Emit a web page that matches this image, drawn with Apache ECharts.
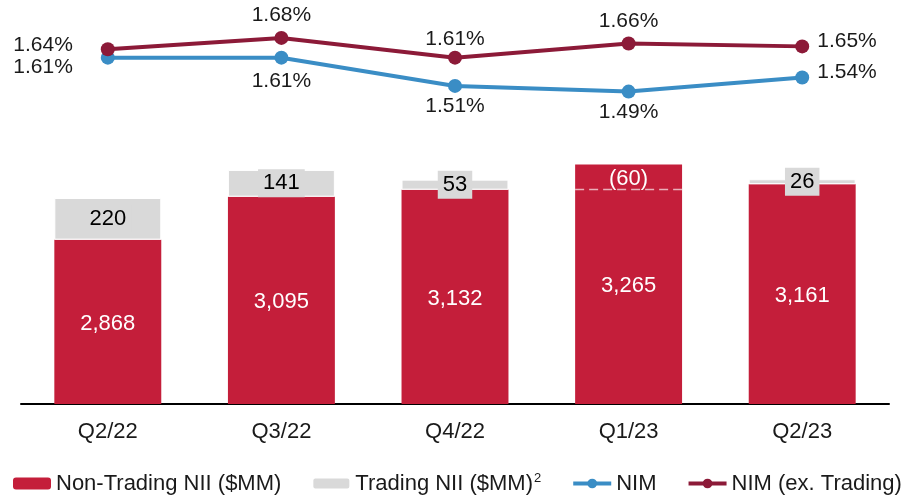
<!DOCTYPE html>
<html>
<head>
<meta charset="utf-8">
<script src="https://cdn.jsdelivr.net/npm/echarts@6/dist/echarts.min.js"></script>
<style>
  html, body { margin: 0; padding: 0; background: #fff; }
  #main { width: 904px; height: 499px; }
  #err { position: absolute; left: 200px; top: 120px; color: #00f; font: 12px sans-serif; }
</style>
</head>
<body>
<div id="main"></div>
<div id="err"></div>
<script>
// data
const quarters = ['Q2/22', 'Q3/22', 'Q4/22', 'Q1/23', 'Q2/23'];
const nonTradingNII = [2868, 3095, 3132, 3265, 3161];
const tradingNII = [220, 141, 53, -60, 26];
const nim = [1.61, 1.61, 1.51, 1.49, 1.54];
const nimExTrading = [1.64, 1.68, 1.61, 1.66, 1.65];

const FONT = 'Liberation Sans, Arial, sans-serif';
const RED = '#c41e3a';
const GRAY = '#d9d9d9';
const BLUE = '#3a8dc5';
const MAROON = '#8c1a38';
const BAR_W = 0.616;

const pct = v => v.toFixed(2) + '%';

// per-point label placement for the two NIM lines
const maroonPos = [
  { position: 'left', distance: 28, offset: [0, -4] },
  { position: 'top', distance: 5 },
  { position: 'top', distance: 1 },
  { position: 'top', distance: 5 },
  { position: 'right', distance: 8, offset: [0, -5] }
];
const bluePos = [
  { position: 'left', distance: 28, offset: [0, 10] },
  { position: 'bottom', distance: 6 },
  { position: 'bottom', distance: 3 },
  { position: 'bottom', distance: 3 },
  { position: 'right', distance: 8, offset: [0, -5] }
];

const negItems = tradingNII.map((v, i) => [i, nonTradingNII[i], v]).filter(d => d[2] < 0);

const chart = echarts.init(document.getElementById('main'));

const option = {
  animation: false,
  textStyle: { fontFamily: FONT },
  grid: [
    { left: 21, right: 15, top: 4, height: 113 },
    { left: 21, right: 15, top: 120, bottom: 95 }
  ],
  xAxis: [
    { type: 'category', gridIndex: 0, data: quarters, show: false },
    {
      type: 'category', gridIndex: 1, data: quarters,
      axisLine: { lineStyle: { color: '#000', width: 2 } },
      axisTick: { show: false },
      axisLabel: { fontSize: 22, color: '#1a1a1a', margin: 17, fontFamily: FONT }
    }
  ],
  yAxis: [
    { type: 'value', gridIndex: 0, min: 1.4, max: 1.8, show: false, splitLine: { show: false } },
    { type: 'value', gridIndex: 1, min: 2000, max: 3500, show: false, splitLine: { show: false } }
  ],
  legend: {
    data: ['Non-Trading NII ($MM)', 'Trading NII ($MM)', 'NIM', 'NIM (ex. Trading)'],
    left: 13, top: 472, padding: 0,
    itemWidth: 38, itemHeight: 12, itemGap: 30,
    lineStyle: { width: 4 },
    formatter: name => name === 'Trading NII ($MM)' ? '{a|' + name + '}{s|2}' : name,
    textStyle: {
      fontSize: 22, color: '#1a1a1a', fontFamily: FONT,
      rich: {
        a: { fontSize: 22, color: '#1a1a1a', fontFamily: FONT },
        s: { fontSize: 13, color: '#1a1a1a', fontFamily: FONT, verticalAlign: 'top', padding: [0, 0, 10, 1] }
      }
    }
  },
  series: [
    {
      name: 'Non-Trading NII ($MM)',
      type: 'bar', xAxisIndex: 1, yAxisIndex: 1, stack: 'nii',
      barWidth: (BAR_W * 100) + '%',
      itemStyle: { color: RED },
      label: { show: true, position: 'inside', color: '#fff', fontSize: 22, fontFamily: FONT,
        offset: [0, 2], formatter: p => p.value.toLocaleString('en-US') },
      data: nonTradingNII
    },
    {
      name: 'Trading NII ($MM)',
      type: 'bar', xAxisIndex: 1, yAxisIndex: 1, stack: 'nii',
      itemStyle: { color: GRAY, borderColor: '#fff', borderWidth: 1 },
      label: { show: true, position: 'inside', color: '#000', fontSize: 22, fontFamily: FONT,
        backgroundColor: GRAY, padding: [3, 5] },
      data: tradingNII.map(v => v > 0 ? v : '-')
    },
    {
      // negative trading NII: dashed marker inside the red bar
      name: 'neg',
      type: 'custom', xAxisIndex: 1, yAxisIndex: 1, silent: true, z: 10,
      encode: { x: 0, y: 1 },
      dimensions: ['idx', 'base', 'trade'],
      data: negItems,
      renderItem: (params, api) => {
        const top = api.coord([api.value(0), api.value(1)]);
        const w = api.size([1, 0])[0] * BAR_W;
        const val = Math.abs(api.value(2));
        return {
          type: 'group',
          children: [
            { type: 'line',
              shape: { x1: top[0] - w / 2, y1: top[1] + 25, x2: top[0] + w / 2, y2: top[1] + 25 },
              style: { stroke: 'rgba(255,255,255,0.65)', lineWidth: 1.5, lineDash: [9, 5] } },
            { type: 'text',
              x: top[0], y: top[1] + 14,
              style: { text: '(' + val + ')', align: 'center', verticalAlign: 'middle',
                fill: '#fff', fontSize: 22, fontFamily: FONT } }
          ]
        };
      }
    },
    {
      name: 'NIM',
      type: 'line', xAxisIndex: 0, yAxisIndex: 0,
      symbol: 'circle', symbolSize: 14,
      lineStyle: { width: 4, color: BLUE }, itemStyle: { color: BLUE },
      label: { show: true, color: '#1a1a1a', fontSize: 21, fontFamily: FONT, formatter: p => pct(p.value) },
      data: nim.map((v, i) => ({ value: v, label: bluePos[i] }))
    },
    {
      name: 'NIM (ex. Trading)',
      type: 'line', xAxisIndex: 0, yAxisIndex: 0,
      symbol: 'circle', symbolSize: 14,
      lineStyle: { width: 4, color: MAROON }, itemStyle: { color: MAROON },
      label: { show: true, color: '#1a1a1a', fontSize: 21, fontFamily: FONT, formatter: p => pct(p.value) },
      data: nimExTrading.map((v, i) => ({ value: v, label: maroonPos[i] }))
    }
  ]
};

try {
  chart.setOption(option);
} catch (e) {
  document.getElementById('err').textContent = String(e && e.stack || e);
}
</script>
</body>
</html>
